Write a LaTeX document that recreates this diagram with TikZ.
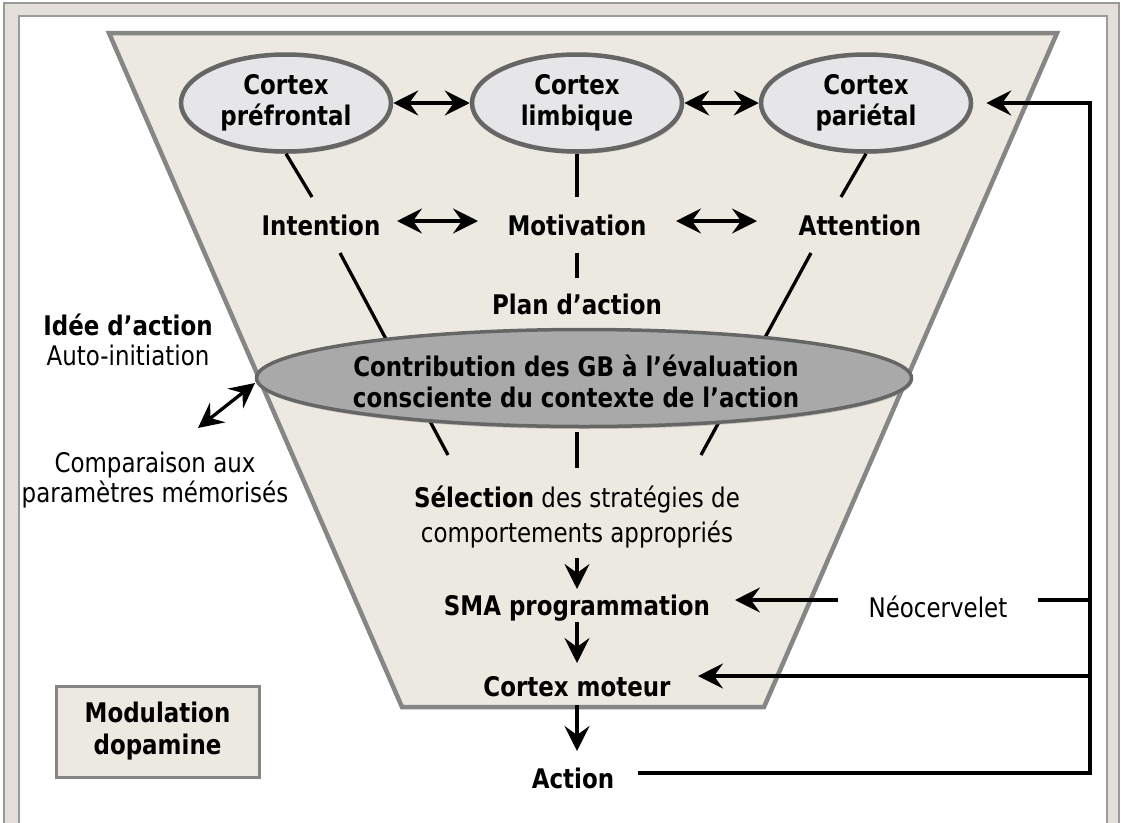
\documentclass[tikz,border=0pt]{standalone}
\usepackage{fontspec}
\setmainfont{DejaVu Sans}[FakeStretch=0.85]
\usetikzlibrary{arrows.meta,shapes.geometric,shadows}

\definecolor{beige}{HTML}{ECE9E0}
\definecolor{trapline}{HTML}{868686}
\definecolor{band}{HTML}{E3E0DC}
\definecolor{bandline}{HTML}{9A9A9A}
\definecolor{ellfill}{HTML}{E6E6E8}
\definecolor{ellline}{HTML}{666666}
\definecolor{bigfill}{HTML}{A9A9A9}
\definecolor{bigline}{HTML}{666666}

\begin{document}
\begin{tikzpicture}[x=1pt,y=-1pt,
  txt/.style={font=\fontsize{27}{31}\selectfont, inner sep=0pt},
  btxt/.style={font=\fontsize{27}{31}\selectfont\bfseries, inner sep=0pt},
  conn/.style={line width=3.3pt, black},
  tipA/.tip={Stealth[length=25pt,width=25pt,inset=9pt]},
  arr/.style={conn, -tipA},
  darr/.style={conn, tipA-tipA},
  cortex/.style={ellipse, draw=ellline, line width=4.5pt, fill=ellfill,
    minimum width=210pt, minimum height=97pt, inner sep=0pt, align=center,
    font=\fontsize{27}{31}\selectfont\bfseries,
    drop shadow={shadow xshift=1.5pt, shadow yshift=-2.5pt, opacity=0.35}},
]
\useasboundingbox (0,0) rectangle (1121,822);

% frame
\fill[band] (4,3) rectangle (1119,830);
\draw[bandline, line width=1.5pt] (4,830) -- (4,3) -- (1119,3) -- (1119,830);
\fill[white] (19,16) rectangle (1107,830);
\draw[bandline, line width=1.5pt] (19,830) -- (19,16) -- (1107,16) -- (1107,830);

% funnel
\draw[trapline, line width=4.5pt, fill=beige, line join=miter]
  (109,33) -- (1057,33) -- (764,707) -- (402,707) -- cycle;

% named coordinates for free ends
\coordinate (pfEnd) at (312,197);
\coordinate (lbEnd) at (577,197);
\coordinate (paEnd) at (841,197);
\coordinate (intA) at (340,253);
\coordinate (intB) at (448,455);
\coordinate (attA) at (811,253);
\coordinate (attB) at (701,455);
\coordinate (motA) at (577,253);
\coordinate (motB) at (577,278);
\coordinate (gbA) at (577,432);
\coordinate (gbB) at (577,468);

% lines behind the big ellipse
\draw[conn] (intA) -- (intB);
\draw[conn] (attA) -- (attB);
\draw[conn] (motA) -- (motB);
\draw[conn] (gbA) -- (gbB);

% big ellipse
\node[ellipse, draw=bigline, line width=3.5pt, fill=bigfill,
  minimum width=655pt, minimum height=97pt, inner sep=0pt,
  drop shadow={shadow xshift=1pt, shadow yshift=-2.5pt, opacity=0.4}] (gb) at (584,378) {};
\node[font=\fontsize{27}{31}\selectfont\bfseries, align=center, inner sep=0pt] (gbt) at (576,381)
  {Contribution des GB à l’évaluation\\consciente du contexte de l’action};

% cortex ellipses
\node[cortex] (pf) at (286,103) {Cortex\\préfrontal};
\node[cortex] (lb) at (577,103) {Cortex\\limbique};
\node[cortex] (pa) at (866,103) {Cortex\\pariétal};

% texts
\node[btxt, anchor=base] (int) at (321,235) {Intention};
\node[btxt, anchor=base] (mot) at (577,235) {Motivation};
\node[btxt, anchor=base] (att) at (860,235) {Attention};
\node[btxt, anchor=base] (plan) at (577,314) {Plan d’action};
\node[btxt, anchor=base] (idee) at (128,335) {Idée d’action};
\node[txt, anchor=base] (auto) at (128,365) {Auto-initiation};
\node[txt, anchor=base] (comp1) at (155,472) {Comparaison aux};
\node[txt, anchor=base] (comp2) at (155,502) {paramètres mémorisés};
\node[txt, anchor=base] (sel1) at (577,507) {\textbf{Sélection} des stratégies de};
\node[txt, anchor=base] (sel2) at (577,542) {comportements appropriés};
\node[btxt, anchor=base] (sma) at (577,615) {SMA programmation};
\node[btxt, anchor=base] (cm) at (577,696) {Cortex moteur};
\node[btxt, anchor=base] (act) at (573,788) {Action};
\node[txt, anchor=base] (neo) at (938,617) {Néocervelet};
\node[draw=trapline, line width=3pt, fill=beige, minimum width=203pt, minimum height=91pt,
  inner sep=0pt, align=center, font=\fontsize{27}{32}\selectfont\bfseries] (mod) at (157.5,731.5)
  {Modulation\\dopamine};

% connectors between cortex and labels
\draw[conn] (pf.south) -- (pfEnd);
\draw[conn] (lb.south) -- (lbEnd);
\draw[conn] (pa.south) -- (paEnd);

\draw[darr] (pf.east) -- (lb.west);
\draw[darr] (lb.east) -- (pa.west);

\coordinate (im1) at (397,221);
\coordinate (im2) at (478,221);
\coordinate (ma1) at (676,221);
\coordinate (ma2) at (757,221);
\draw[darr] (im1) -- (im2);
\draw[darr] (ma1) -- (ma2);

% comparison arrow
\coordinate (cmpA) at (198,428);
\coordinate (cmpB) at (255,383);
\draw[darr] (cmpA) -- (cmpB);

% vertical chain
\coordinate (d1a) at (577,558);
\coordinate (d1b) at (577,589);
\coordinate (d2a) at (577,622);
\coordinate (d2b) at (577,663);
\coordinate (d3a) at (577,705);
\coordinate (d3b) at (577,751);
\draw[arr] (d1a) -- (d1b);
\draw[arr] (d2a) -- (d2b);
\draw[arr] (d3a) -- (d3b);

% feedback loop
\coordinate (actR) at (638,773);
\coordinate (loopB) at (1090,773);
\coordinate (loopT) at (1090,103);
\coordinate (loopN) at (1090,600);
\coordinate (loopC) at (1090,676);
\coordinate (neoR) at (1038,600);
\coordinate (neoL) at (838,600);
\coordinate (smaTip) at (735,600);
\coordinate (cmTip) at (698,676);
\draw[arr, line join=miter, shorten >=13pt] (actR) -- (loopB) -- (loopT) -- (pa.east);
\draw[conn] (neoR) -- (loopN);
\draw[arr] (neoL) -- (smaTip);
\draw[arr] (loopC) -- (cmTip);
\end{tikzpicture}
\end{document}
